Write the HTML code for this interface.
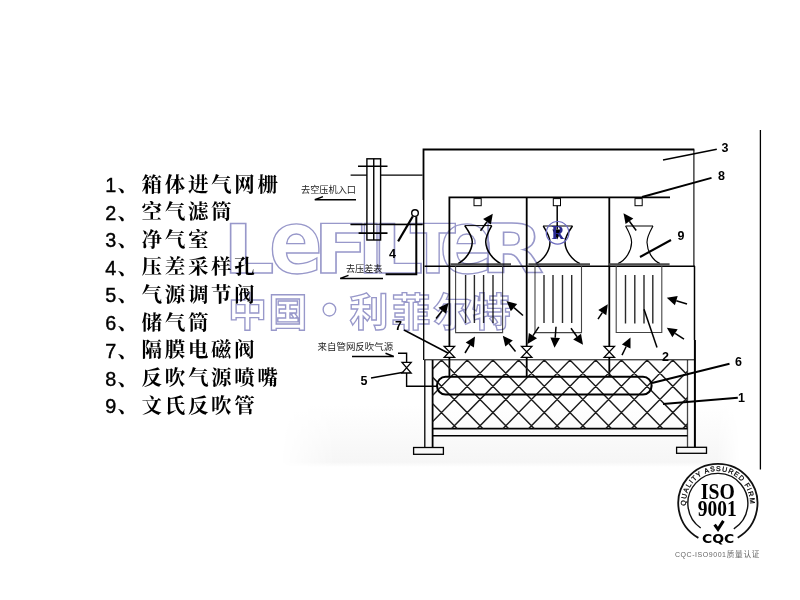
<!DOCTYPE html>
<html lang="zh-CN"><head><meta charset="utf-8"><title>滤筒除尘器结构图</title>
<style>
html,body{margin:0;padding:0;background:#fff;width:800px;height:600px;overflow:hidden}
svg{display:block}
.cn{font-family:"Liberation Serif","Noto Serif CJK SC",serif;font-weight:700;font-size:20.5px;fill:#000}
.dg{font-family:"Liberation Sans","Noto Sans CJK SC",sans-serif;font-weight:400;font-size:19.8px;fill:#000;stroke:#000;stroke-width:.4px}
.lb{font-family:"Liberation Sans","Noto Sans CJK SC",sans-serif;font-weight:700;font-size:12.5px;fill:#000}
.sm{font-family:"Liberation Sans","Noto Sans CJK SC",sans-serif;font-weight:400;font-size:8.9px;fill:#222}
.wm2{font-family:"DejaVu Sans","Liberation Sans",sans-serif;font-weight:700;fill:none;stroke:#9898ca;stroke-width:1.35;mix-blend-mode:multiply}
.wme{font-family:"DejaVu Sans Condensed","DejaVu Sans","Liberation Sans",sans-serif;font-size:88px}
.wm{font-family:"Liberation Sans","Noto Sans CJK SC",sans-serif;font-weight:700;fill:none;stroke:#9898ca;stroke-width:1.35;mix-blend-mode:multiply}
</style></head><body>
<svg width="800" height="600" viewBox="0 0 800 600">
<rect width="800" height="600" fill="#fff"/>
<defs><linearGradient id="bg" x1="0" y1="0" x2="0" y2="1"><stop offset="0" stop-color="#fff"/><stop offset="0.5" stop-color="#fafafa"/><stop offset="0.92" stop-color="#f6f6f6"/><stop offset="1" stop-color="#fff"/></linearGradient>
<linearGradient id="bgm" x1="0" y1="0" x2="1" y2="0"><stop offset="0" stop-color="#000"/><stop offset="0.12" stop-color="#fff"/><stop offset="0.95" stop-color="#fff"/><stop offset="1" stop-color="#000"/></linearGradient>
<mask id="bgmask"><rect x="280" y="400" width="460" height="70" fill="url(#bgm)"/></mask></defs>
<rect x="280" y="405" width="460" height="62" fill="url(#bg)" mask="url(#bgmask)"/>
<g fill="none" stroke="#000" stroke-linecap="butt">
<path d="M423.5,200 V149.5 H694.3" stroke-width="1.8"/>
<path d="M423.7,200 V360" stroke-width="1.3"/><path d="M424.8,360 V447" stroke-width="1.3"/>
<path d="M693.9,149.5 V266" stroke-width="1.1"/>
<path d="M694.5,266 V340" stroke-width="1.5"/><path d="M694.9,340 V447" stroke-width="2"/>
<path d="M687.5,360 V447" stroke-width="1.3" stroke="#444"/>
<path d="M449.4,346.4 V197.3 H670" stroke-width="1.8"/>
<path d="M526.7,197.4 V346.4 M609.3,197.4 V346.4" stroke-width="1.8"/>
<path d="M449.4,357 V377 M526.7,357 V377 M609.3,357 V377" stroke-width="1.8"/>
<path d="M424.5,266.2 H695" stroke-width="1.4"/>
<rect x="474" y="198.6" width="7.2" height="7.1" stroke-width="1" fill="#fff"/>
<rect x="553.3" y="198.6" width="7.2" height="7.1" stroke-width="1" fill="#fff"/>
<rect x="635" y="198.6" width="7.2" height="7.1" stroke-width="1" fill="#fff"/>
<path d="M464.75,225.6 H491.75" stroke-width="1"/>
<path d="M464.75,225.6 C468.9,231.6 472.45,236.6 472.25,242.1 C471.95,250.6 466,259.6 458,263.6" stroke-width="1.5"/>
<path d="M491.75,225.6 C488.4,231.6 485.55,236.6 485.75,242.1 C486.05,250.6 492.75,259.6 500.75,263.6" stroke-width="1.5"/>
<path d="M543.25,226 H572.5" stroke-width="1"/>
<path d="M543.25,226 C547.0,232 550.2,237 550,242.5 C549.7,251 543.75,260 535.75,263.6" stroke-width="1.5"/>
<path d="M572.5,226 C568.4,232 564.8,237 565,242.5 C565.3,251 572,260 580,263.6" stroke-width="1.5"/>
<path d="M625.6,226 H653" stroke-width="1"/>
<path d="M625.6,226 C628.9,232 631.8000000000001,237 631.6,242.5 C631.3000000000001,251 626,260 618,263.6" stroke-width="1.15"/>
<path d="M653,226 C649.7,232 646.8,237 647,242.5 C647.3,251 652,260 660,263.6" stroke-width="1.15"/>
<path d="M450.4,264.4 H511 M528.4,264.4 H590 M609,264.4 H669.6" stroke="#4a4a4a" stroke-width="2.4"/>
<path d="M455.6,266 V332.6 H502.6 V266" stroke-width="1.1" stroke="#444"/>
<path d="M465.6,275 V323 M474.4,275 V323 M483.6,275 V323 M493,275 V323" stroke-width="1.4" stroke="#2a2a2a"/>
<path d="M535,266 V332.6 H581.5 V266" stroke-width="1.1" stroke="#444"/>
<path d="M544,275 V323 M553,275 V323 M562.5,275 V323 M571.7,275 V323" stroke-width="1.4" stroke="#2a2a2a"/>
<path d="M616.2,266 V332.5 H661.8 V266" stroke-width="1.1" stroke="#444"/>
<path d="M625.5,275 V323.5 M634.8,275 V323.5 M644,275 V323.5 M652.8,275 V323.5" stroke-width="1.4" stroke="#2a2a2a"/>
<path d="M350.6,175.1 H422.6" stroke-width="1.4"/><path d="M350.6,224.4 H422.6" stroke-width="1.5"/>
<rect x="366.9" y="158.8" width="13.7" height="81.2" stroke-width="1.4" fill="#fff"/>
<path d="M373.75,158.8 V240" stroke-width="1.4"/>
<path d="M350.6,224.4 H422.6" stroke-width="1.2" stroke-opacity="0.75"/>
<path d="M358,166.3 H387.5 M358.6,233.1 H387.5" stroke-width="1.6"/>
<circle cx="415" cy="213.1" r="3.3" stroke-width="1.4" fill="#fff"/>
<path d="M412.8,216.4 L398.1,241.4" stroke-width="2.1"/>
<path d="M416.3,216.6 V274.2 H385.6" stroke-width="2"/>
<path d="M356,199.7 H314.8 L323,196.6" stroke-width="1.5" stroke-linejoin="miter"/>
<path d="M383,278.4 H340.2 L348.5,275.4" stroke-width="1.5"/>
<path d="M352,356.4 H393.8 L385.5,353.2" stroke-width="1.5"/>
<path d="M398,353.2 H406.6 V362.4 M406.6,373 V386.2 H437" stroke-width="1.4"/>
<path d="M424.3,359.8 H694.5" stroke-width="1"/>
<path d="M432.6,360 V447" stroke-width="1.8"/>
<path d="M432.6,428.6 H687.5" stroke-width="1.7"/><path d="M432.6,435.8 H687.5" stroke-width="1.4"/>
<rect x="413.6" y="447.5" width="29.8" height="6.8" stroke-width="1.3"/>
<rect x="676.6" y="447.3" width="29.9" height="6" stroke-width="1.3"/>
<clipPath id="hc"><rect x="432.6" y="360" width="254.9" height="68.6"/></clipPath>
<path clip-path="url(#hc)" d="M364.4,360.1 l68.5,70 M364.4,360.1 l-68.5,70 M390.1,360.1 l68.5,70 M390.1,360.1 l-68.5,70 M415.8,360.1 l68.5,70 M415.8,360.1 l-68.5,70 M441.5,360.1 l68.5,70 M441.5,360.1 l-68.5,70 M467.2,360.1 l68.5,70 M467.2,360.1 l-68.5,70 M492.9,360.1 l68.5,70 M492.9,360.1 l-68.5,70 M518.6,360.1 l68.5,70 M518.6,360.1 l-68.5,70 M544.3,360.1 l68.5,70 M544.3,360.1 l-68.5,70 M570.0,360.1 l68.5,70 M570.0,360.1 l-68.5,70 M595.7,360.1 l68.5,70 M595.7,360.1 l-68.5,70 M621.4,360.1 l68.5,70 M621.4,360.1 l-68.5,70 M647.1,360.1 l68.5,70 M647.1,360.1 l-68.5,70 M672.8,360.1 l68.5,70 M672.8,360.1 l-68.5,70 M698.5,360.1 l68.5,70 M698.5,360.1 l-68.5,70 M724.2,360.1 l68.5,70 M724.2,360.1 l-68.5,70 M749.9,360.1 l68.5,70 M749.9,360.1 l-68.5,70 M775.6,360.1 l68.5,70 M775.6,360.1 l-68.5,70 M801.3,360.1 l68.5,70 M801.3,360.1 l-68.5,70 M827.0,360.1 l68.5,70 M827.0,360.1 l-68.5,70 M852.7,360.1 l68.5,70 M852.7,360.1 l-68.5,70" stroke-width="1.45" stroke="#1c1c1c"/>
<rect x="437" y="376.8" width="214.6" height="17.7" rx="8.6" ry="8.85" stroke-width="2.1"/>
<path d="M663,160 L716.8,149.3" stroke-width="1.5"/>
<path d="M642,197 L711.5,177.8" stroke-width="1.9"/>
<path d="M671,240 L640,257" stroke-width="2.1"/>
<path d="M644,309.25 L657,347.5" stroke-width="1.5"/>
<path d="M652,383 L729.5,363.7" stroke-width="2"/>
<path d="M663,404 L737.8,397.8" stroke-width="1.9"/>
<path d="M404,330 L448,353" stroke-width="1.5"/>
<path d="M371,378 L405,372" stroke-width="1.5"/>
<path d="M760.4,130 V469.6" stroke-width="1.3"/>
</g>
<path d="M444.2,346.4 L454.59999999999997,346.4 L444.2,357.4 L454.59999999999997,357.4 Z" fill="#fff" stroke="#000" stroke-width="1.3"/>
<path d="M521.5,346.4 L531.9000000000001,346.4 L521.5,357.4 L531.9000000000001,357.4 Z" fill="#fff" stroke="#000" stroke-width="1.3"/>
<path d="M604.0999999999999,346.4 L614.5,346.4 L604.0999999999999,357.4 L614.5,357.4 Z" fill="#fff" stroke="#000" stroke-width="1.3"/>
<path d="M402.0,362.4 L411.20000000000005,362.4 L402.0,373 L411.20000000000005,373 Z" fill="#fff" stroke="#000" stroke-width="1.3"/>
<line x1="436" y1="318.5" x2="442.2" y2="310.8" stroke="#000" stroke-width="1.5" />
<polygon points="448.5,303.0 446.0,313.8 438.5,307.8" fill="#000"/>
<line x1="523" y1="315.5" x2="514.0" y2="307.6" stroke="#000" stroke-width="1.5" />
<polygon points="506.5,301.0 517.2,304.0 510.8,311.2" fill="#000"/>
<line x1="465" y1="353" x2="469.8" y2="345.1" stroke="#000" stroke-width="1.5" />
<polygon points="475.0,336.5 473.9,347.5 465.7,342.6" fill="#000"/>
<line x1="515.5" y1="351.5" x2="509.0" y2="343.5" stroke="#000" stroke-width="1.5" />
<polygon points="502.8,335.8 512.8,340.5 505.3,346.5" fill="#000"/>
<line x1="538.8" y1="326.8" x2="533.0" y2="335.6" stroke="#000" stroke-width="1.5" />
<polygon points="527.5,344.0 528.9,333.0 537.0,338.2" fill="#000"/>
<line x1="556" y1="326.8" x2="555.2" y2="337.8" stroke="#000" stroke-width="1.5" />
<polygon points="554.5,347.8 550.4,337.4 560.0,338.1" fill="#000"/>
<line x1="571" y1="328.2" x2="577.1" y2="336.7" stroke="#000" stroke-width="1.5" />
<polygon points="583.0,344.8 573.2,339.5 581.0,333.8" fill="#000"/>
<line x1="687" y1="304" x2="676.3" y2="300.7" stroke="#000" stroke-width="1.5" />
<polygon points="666.8,297.7 677.7,296.1 674.9,305.3" fill="#000"/>
<line x1="684" y1="339.2" x2="675.1" y2="333.3" stroke="#000" stroke-width="1.5" />
<polygon points="666.8,327.7 677.7,329.3 672.4,337.3" fill="#000"/>
<line x1="598" y1="319.2" x2="602.3" y2="312.6" stroke="#000" stroke-width="1.5" />
<polygon points="607.8,304.2 606.3,315.3 598.3,310.0" fill="#000"/>
<line x1="622" y1="355.2" x2="626.2" y2="346.5" stroke="#000" stroke-width="1.5" />
<polygon points="630.5,337.5 630.5,348.6 621.9,344.4" fill="#000"/>
<line x1="480.5" y1="230.8" x2="487.0" y2="221.8" stroke="#000" stroke-width="1.5" />
<polygon points="492.8,213.7 490.9,224.6 483.1,219.0" fill="#000"/>
<line x1="636.2" y1="230.5" x2="629.4" y2="221.3" stroke="#000" stroke-width="1.5" />
<polygon points="623.5,213.2 633.3,218.4 625.6,224.1" fill="#000"/>
<line x1="557.2" y1="205.8" x2="557.2" y2="229.5" stroke="#000" stroke-width="1.5" />
<polygon points="557.2,239.5 552.4,229.5 562.0,229.5" fill="#000"/>
<text class="lb" x="721.5" y="152.3">3</text>
<text class="lb" x="718" y="180">8</text>
<text class="lb" x="677.5" y="240.2">9</text>
<text class="lb" x="662" y="361.2">2</text>
<text class="lb" x="735" y="365.5">6</text>
<text class="lb" x="738" y="402.3">1</text>
<text class="lb" x="395" y="330">7</text>
<text class="lb" x="360.5" y="385.4">5</text>
<text class="lb" x="389" y="257.5">4</text>
<text class="sm" x="301" y="193" textLength="55" lengthAdjust="spacingAndGlyphs">去空压机入口</text>
<text class="sm" x="346" y="272" textLength="36.5" lengthAdjust="spacingAndGlyphs">去压差表</text>
<text class="sm" x="317.6" y="349.6" textLength="75.5" lengthAdjust="spacingAndGlyphs">来自管网反吹气源</text>
<text class="wm2" y="273" font-size="67"><tspan x="223.2" textLength="51.2" lengthAdjust="spacingAndGlyphs">L</tspan><tspan class="wme" x="269">e</tspan><tspan x="313.6" textLength="55" lengthAdjust="spacingAndGlyphs">F</tspan><tspan x="358.2">I</tspan><tspan x="372" textLength="51.2" lengthAdjust="spacingAndGlyphs">L</tspan><tspan x="410">T</tspan><tspan class="wme" x="439.5">e</tspan><tspan x="480.4" textLength="63.5" lengthAdjust="spacingAndGlyphs">R</tspan></text>
<text class="wm" y="325.8" font-size="39"><tspan x="228 268.5">中国</tspan><tspan x="321.8" y="324.4" font-size="44">•</tspan><tspan x="349.5 391.5 433 472" y="325.8">利菲尔特</tspan></text>
<circle cx="557.6" cy="232.8" r="11.3" fill="none" stroke="#6a6ac0" stroke-width="1.2"/>
<text x="558" y="239" text-anchor="middle" font-family="'Liberation Serif',serif" font-weight="700" font-size="18" fill="#2a2a90">R</text>
<text class="dg" x="105.2" y="192">1</text>
<text class="cn" x="117.5" y="192">、</text>
<text class="cn" x="141.5 164.7 187.9 211.1 234.3 257.5" y="191.5">箱体进气网栅</text>
<text class="dg" x="105.2" y="219.5">2</text>
<text class="cn" x="117.5" y="219.5">、</text>
<text class="cn" x="141.5 164.7 187.9 211.1" y="219.0">空气滤筒</text>
<text class="dg" x="105.2" y="247">3</text>
<text class="cn" x="117.5" y="247">、</text>
<text class="cn" x="141.5 164.7 187.9" y="246.5">净气室</text>
<text class="dg" x="105.2" y="274.5">4</text>
<text class="cn" x="117.5" y="274.5">、</text>
<text class="cn" x="141.5 164.7 187.9 211.1 234.3" y="274.0">压差采样孔</text>
<text class="dg" x="105.2" y="302">5</text>
<text class="cn" x="117.5" y="302">、</text>
<text class="cn" x="141.5 164.7 187.9 211.1 234.3" y="301.5">气源调节阀</text>
<text class="dg" x="105.2" y="330">6</text>
<text class="cn" x="117.5" y="330">、</text>
<text class="cn" x="141.5 164.7 187.9" y="329.5">储气筒</text>
<text class="dg" x="105.2" y="357.5">7</text>
<text class="cn" x="117.5" y="357.5">、</text>
<text class="cn" x="141.5 164.7 187.9 211.1 234.3" y="357.0">隔膜电磁阀</text>
<text class="dg" x="105.2" y="385.5">8</text>
<text class="cn" x="117.5" y="385.5">、</text>
<text class="cn" x="141.5 164.7 187.9 211.1 234.3 257.5" y="385.0">反吹气源喷嘴</text>
<text class="dg" x="105.2" y="413">9</text>
<text class="cn" x="117.5" y="413">、</text>
<text class="cn" x="141.5 164.7 187.9 211.1 234.3" y="412.5">文氏反吹管</text>
<g fill="none" stroke="#111">
<path d="M698.4,537.9 A39.6,39.6 0 1 1 737.7,537.7" stroke-width="1.8"/>
<path d="M700.7,528.0 A30,30 0 1 1 733.8,528.8" stroke-width="1.4"/>
</g>
<path id="isoArc" d="M686.0,505.6 A32,32 0 1 1 749.8,505.6" fill="none"/>
<text font-family="'Liberation Sans',sans-serif" font-size="7" fill="#000" stroke="#000" stroke-width="0.25" letter-spacing="0.5"><textPath href="#isoArc" startOffset="0" textLength="104" lengthAdjust="spacing">QUALITY ASSURED FIRM</textPath></text>
<text x="717.8" y="498.8" text-anchor="middle" font-family="'Liberation Serif',serif" font-weight="700" font-size="22.5" fill="#000" textLength="34" lengthAdjust="spacingAndGlyphs">ISO</text>
<text x="717.3" y="516" text-anchor="middle" font-family="'Liberation Serif',serif" font-weight="700" font-size="22.5" fill="#000" textLength="39" lengthAdjust="spacingAndGlyphs">9001</text>
<path d="M714.6,524.6 L718,529.3 L723.4,520.9" fill="none" stroke="#000" stroke-width="3"/>
<text x="702" y="542.6" font-family="'DejaVu Sans','Liberation Sans',sans-serif" font-weight="700" font-size="12.3" fill="#000" textLength="32.3" lengthAdjust="spacingAndGlyphs">CQC</text>
<text x="675" y="557.3" font-family="'Liberation Sans','Noto Sans CJK SC',sans-serif" font-size="7" fill="#666"><tspan textLength="51" lengthAdjust="spacing">CQC-ISO9001</tspan><tspan x="726.8" font-size="7.6" textLength="32.5" lengthAdjust="spacing">质量认证</tspan></text>
</svg></body></html>
